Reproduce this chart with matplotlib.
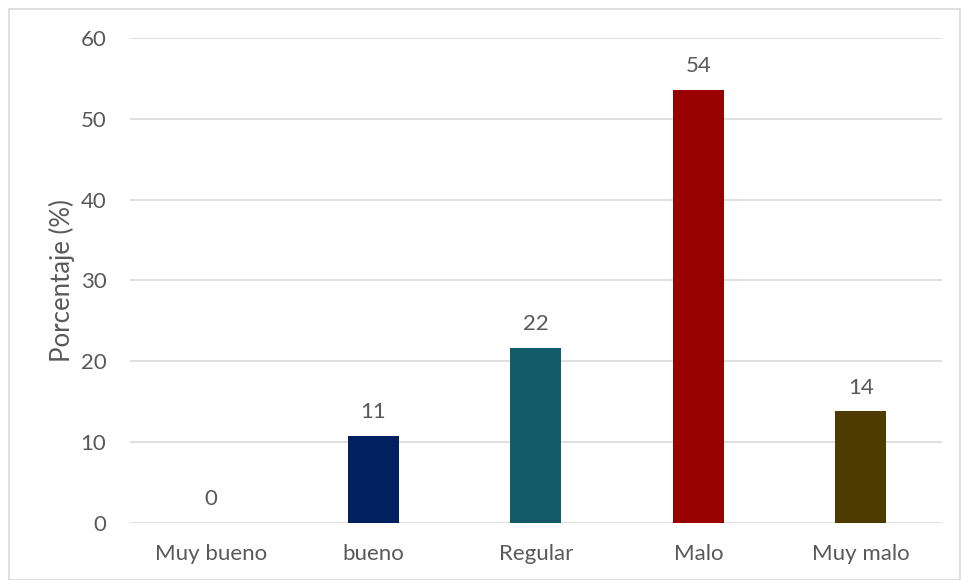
import matplotlib.pyplot as plt
from matplotlib.patches import Rectangle

categorias = ["Muy bueno", "bueno", "Regular", "Malo", "Muy malo"]
porcentajes = [0.0, 10.8, 21.7, 53.6, 13.8]
etiquetas = ["0", "11", "22", "54", "14"]
colores = ["#002060", "#002060", "#135B69", "#990000", "#4D3B00"]

plt.rcParams["font.family"] = ["Lato", "DejaVu Sans"]
gris = "#595959"

fig = plt.figure(figsize=(9.61, 5.8), dpi=100)
ax = fig.add_axes([0.1353, 0.0983, 0.8447, 0.8362])

x = range(len(categorias))
ax.bar(x, porcentajes, width=0.315, color=colores, zorder=3)

for xi, v, t in zip(x, porcentajes, etiquetas):
    ax.annotate(t, (xi, v), xytext=(0, 17), textcoords="offset points",
                ha="center", va="center", fontsize=16, color=gris)

ax.set_xlim(-0.5, len(categorias) - 0.5)
ax.set_ylim(0, 60)
ax.set_yticks(range(0, 61, 10))
ax.set_xticks(list(x))
ax.set_xticklabels(categorias)
ax.tick_params(axis="both", length=0, labelsize=16, colors=gris)
ax.tick_params(axis="y", pad=17)
ax.tick_params(axis="x", pad=15)
ax.grid(axis="y", color="#D9D9D9", linewidth=1.2, zorder=0)
for s in ax.spines.values():
    s.set_visible(False)
ax.set_ylabel("Porcentaje (%)", fontsize=18.5, color=gris, labelpad=4)

fig.patches.append(Rectangle((9 / 961, 0), 951 / 961, 1 - 9 / 580,
                             transform=fig.transFigure, fill=False,
                             edgecolor="#D9D9D9", linewidth=1.2))

fig.savefig("out.png", dpi=100)
